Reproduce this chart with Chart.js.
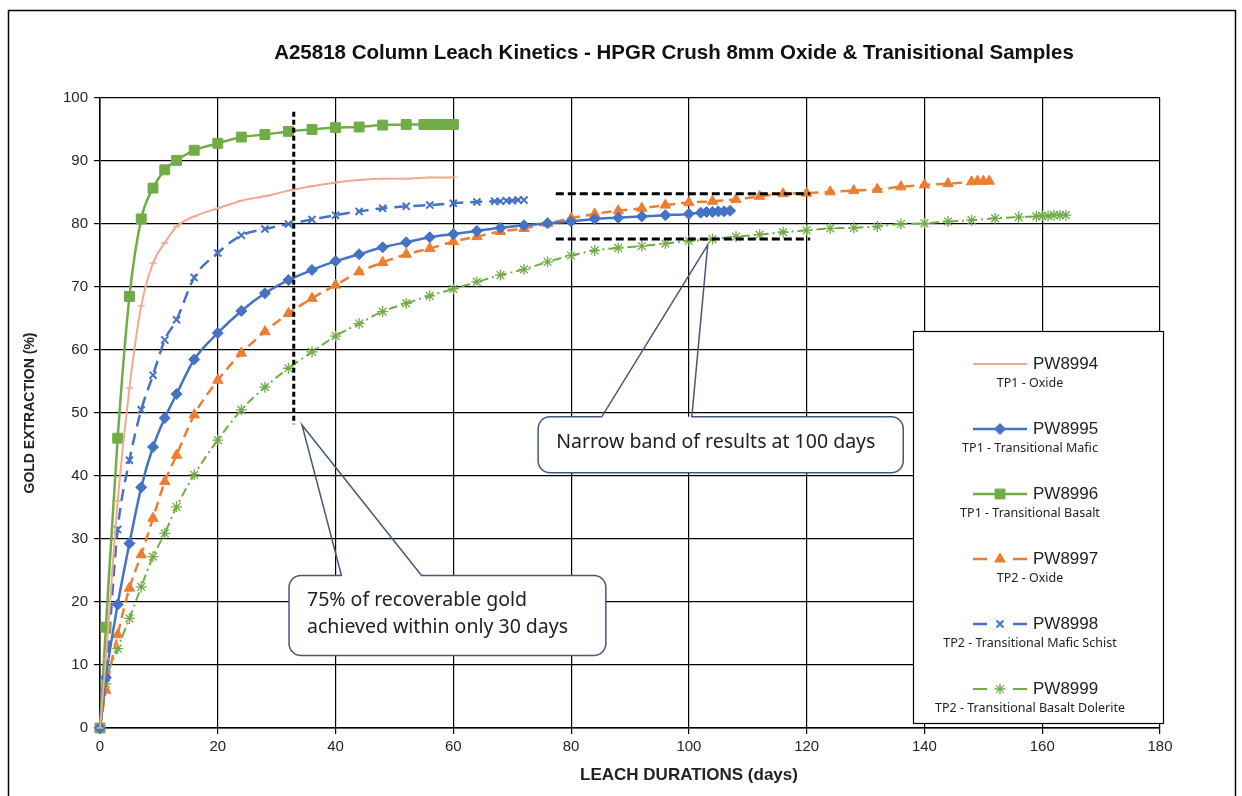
<!DOCTYPE html>
<html>
<head>
<meta charset="utf-8">
<script src="https://cdn.jsdelivr.net/npm/chart.js@4.4.1/dist/chart.umd.min.js"></script>
<style>
  html, body { margin: 0; padding: 0; background: #fff; }
</style>
</head>
<body>
<canvas id="leachChart" width="1242" height="796"></canvas>
<script>
const chartTitle = 'A25818 Column Leach Kinetics - HPGR Crush 8mm Oxide & Tranisitional Samples';
const xTitle = 'LEACH DURATIONS (days)';
const yTitle = 'GOLD EXTRACTION (%)';
const xTickValues = [0, 20, 40, 60, 80, 100, 120, 140, 160, 180];
const yTickValues = [0, 10, 20, 30, 40, 50, 60, 70, 80, 90, 100];

const sampleNames = ['PW8994', 'PW8995', 'PW8996', 'PW8997', 'PW8998', 'PW8999'];
const sampleTypes = ['TP1 - Oxide', 'TP1 - Transitional Mafic', 'TP1 - Transitional Basalt',
    'TP2 - Oxide', 'TP2 - Transitional Mafic Schist', 'TP2 - Transitional Basalt Dolerite'];

// leach days and gold extraction (%) per column
const days8994 = [0, 1, 3, 5, 7, 9, 11, 13, 16, 20, 24, 28, 32, 36, 40, 44, 48, 52, 56, 60];
const gold8994 = [0, 11, 36, 54, 67, 73.8, 77, 79.6, 81.2, 82.5, 83.7, 84.4, 85.3, 86, 86.6, 87, 87.2, 87.2, 87.4, 87.4];

const days8995 = [0, 1, 3, 5, 7, 9, 11, 13, 16, 20, 24, 28, 32, 36, 40, 44, 48, 52, 56, 60,
    64, 68, 72, 76, 80, 84, 88, 92, 96, 100, 102, 103, 104, 105, 106, 107];
const gold8995 = [0, 8, 19.6, 29.3, 38.2, 44.6, 49.2, 53, 58.5, 62.7, 66.2, 69, 71.1, 72.7, 74.1, 75.2, 76.3, 77.1, 77.9, 78.4,
    78.9, 79.4, 79.8, 80.1, 80.4, 80.8, 81, 81.2, 81.4, 81.6, 81.8, 81.9, 81.9, 82, 82, 82.1];

const days8996 = [0, 1, 3, 5, 7, 9, 11, 13, 16, 20, 24, 28, 32, 36, 40, 44, 48, 52, 55, 56, 57, 58, 59, 60];
const gold8996 = [0, 16, 46, 68.5, 80.8, 85.7, 88.6, 90.1, 91.7, 92.8, 93.8, 94.2, 94.7, 95, 95.3, 95.4, 95.7, 95.8, 95.8, 95.8, 95.8, 95.8, 95.8, 95.8];

const days8997 = [0, 1, 3, 5, 7, 9, 11, 13, 16, 20, 24, 28, 32, 36, 40, 44, 48, 52, 56, 60,
    64, 68, 72, 76, 80, 84, 88, 92, 96, 100, 104, 108, 112, 116, 120, 124, 128, 132, 136, 140, 144, 148, 149, 150, 151];
const gold8997 = [0, 6, 14.8, 22.2, 27.5, 33.3, 39.1, 43.3, 49.7, 55.2, 59.5, 62.9, 65.8, 68.2, 70.3, 72.4, 73.9, 75.2, 76.1, 77.2,
    78, 78.8, 79.3, 80.1, 80.9, 81.6, 82.1, 82.5, 83, 83.4, 83.6, 83.9, 84.4, 84.8, 84.9, 85.1, 85.3, 85.5, 85.9, 86.2, 86.4, 86.7, 86.8, 86.8, 86.8];

const days8998 = [0, 1, 3, 5, 7, 9, 11, 13, 16, 20, 24, 28, 32, 36, 40, 44, 48, 52, 56, 60, 64, 67, 68, 69, 70, 71, 72];
const gold8998 = [0, 8, 31.5, 42.5, 50.5, 56, 61.6, 64.8, 71.5, 75.4, 78.2, 79.2, 80, 80.7, 81.4, 82, 82.5, 82.8, 83, 83.3,
    83.5, 83.6, 83.6, 83.7, 83.7, 83.8, 83.8];

const days8999 = [0, 1, 3, 5, 7, 9, 11, 13, 16, 20, 24, 28, 32, 36, 40, 44, 48, 52, 56, 60,
    64, 68, 72, 76, 80, 84, 88, 92, 96, 100, 104, 108, 112, 116, 120, 124, 128, 132, 136, 140,
    144, 148, 152, 156, 159, 160, 161, 162, 163, 164];
const gold8999 = [0, 7, 12.6, 17.4, 22.4, 27.2, 30.9, 35.1, 40.2, 45.7, 50.5, 54.1, 57.1, 59.7, 62.2, 64.2, 66.1, 67.4, 68.6, 69.7,
    70.8, 71.9, 72.8, 74, 75, 75.8, 76.2, 76.5, 76.9, 77.3, 77.6, 78, 78.3, 78.7, 79, 79.3, 79.4, 79.6, 80, 80.1,
    80.4, 80.6, 80.9, 81.1, 81.2, 81.3, 81.3, 81.4, 81.4, 81.4];

const toPoints = (days, gold) => days.map((d, i) => ({ x: d, y: gold[i] }));

const datasets = [
    {
        label: sampleNames[0],
        data: toPoints(days8994, gold8994),
        borderColor: '#F4A98E', backgroundColor: '#F4A98E',
        borderWidth: 2, pointStyle: 'line', pointRadius: 3.5, pointBorderWidth: 1.5
    },
    {
        label: sampleNames[1],
        data: toPoints(days8995, gold8995),
        borderColor: '#4472C4', backgroundColor: '#4472C4',
        borderWidth: 2.5, pointStyle: 'rectRot', pointRadius: 5.5, pointBorderWidth: 1
    },
    {
        label: sampleNames[2],
        data: toPoints(days8996, gold8996),
        borderColor: '#70AD47', backgroundColor: '#70AD47',
        borderWidth: 2.5, pointStyle: 'rect', pointRadius: 7, pointBorderWidth: 1
    },
    {
        label: sampleNames[3],
        data: toPoints(days8997, gold8997),
        borderColor: '#ED7D31', backgroundColor: '#ED7D31',
        borderWidth: 2.5, borderDash: [10, 6], pointStyle: 'triangle', pointRadius: 6, pointBorderWidth: 1
    },
    {
        label: sampleNames[4],
        data: toPoints(days8998, gold8998),
        borderColor: '#4472C4', backgroundColor: '#4472C4',
        borderWidth: 2.5, borderDash: [12, 7], pointStyle: 'crossRot', pointRadius: 5, pointBorderWidth: 2
    },
    {
        label: sampleNames[5],
        data: toPoints(days8999, gold8999),
        borderColor: '#70AD47', backgroundColor: '#70AD47',
        borderWidth: 2, borderDash: [9, 4, 2, 4], pointStyle: 'star', pointRadius: 5.5, pointBorderWidth: 1.3
    }
];
datasets.forEach(ds => {
    ds.fill = false;
    ds.tension = 0.3;
    ds.cubicInterpolationMode = 'monotone';
    ds.pointBackgroundColor = ds.backgroundColor;
    ds.pointBorderColor = ds.borderColor;
    ds.clip = false;
});

// annotation positions in data units (days, %)
const bandStart = 77.4, bandEnd = 120.6;
const bandLevels = [84.8, 77.6];
const markerDay = 32.9, markerFrom = 48.2, markerTo = 97.8;
const callouts = [
    { lines: ['Narrow band of results at 100 days'], x0: 74.4, x1: 136.4, yTop: 49.4, yBottom: 40.5,
      base: [85.2, 100.5], tip: [103.2, 76.7] },
    { lines: ['75% of recoverable gold', 'achieved within only 30 days'], x0: 32.1, x1: 85.9, yTop: 24.2, yBottom: 11.5,
      base: [41.0, 54.6], tip: [34.3, 48.1] }
];

const framePlugin = {
    id: 'frame',
    beforeDraw(chart) {
        const ctx = chart.ctx;
        ctx.save();
        ctx.fillStyle = '#fff';
        ctx.fillRect(0, 0, chart.width, chart.height);
        ctx.strokeStyle = '#000';
        ctx.lineWidth = 1.5;
        ctx.strokeRect(8.5, 10.5, 1227, 800);
        ctx.fillStyle = '#111';
        ctx.font = 'bold 20.5px "Liberation Sans", Arial, sans-serif';
        ctx.textAlign = 'center';
        ctx.textBaseline = 'middle';
        ctx.fillText(chartTitle, 674, 53);
        // x axis title sits a little right of the plot centre
        ctx.font = 'bold 17px "Liberation Sans", Arial, sans-serif';
        ctx.fillStyle = '#222';
        ctx.fillText(xTitle, 689, 775);
        ctx.restore();
    }
};

const annotationPlugin = {
    id: 'notes',
    afterDatasetsDraw(chart) {
        const ctx = chart.ctx;
        const xs = chart.scales.x, ys = chart.scales.y;
        const px = v => xs.getPixelForValue(v);
        const py = v => ys.getPixelForValue(v);
        ctx.save();
        ctx.strokeStyle = '#000';
        ctx.lineWidth = 3;
        ctx.setLineDash([5, 3]);
        ctx.beginPath();
        ctx.moveTo(px(markerDay), py(markerTo));
        ctx.lineTo(px(markerDay), py(markerFrom));
        ctx.stroke();
        ctx.setLineDash([8, 4]);
        bandLevels.forEach(lv => {
            ctx.beginPath();
            ctx.moveTo(px(bandStart), py(lv));
            ctx.lineTo(px(bandEnd), py(lv));
            ctx.stroke();
        });
        ctx.setLineDash([]);

        callouts.forEach(c => {
            const l = px(c.x0), r = px(c.x1), t = py(c.yTop), b = py(c.yBottom);
            const rad = 12;
            ctx.fillStyle = '#fff';
            ctx.beginPath();
            ctx.roundRect(l, t, r - l, b - t, rad);
            ctx.fill();
            ctx.beginPath();
            ctx.moveTo(l + rad, t);
            ctx.lineTo(px(c.base[0]), t);
            ctx.lineTo(px(c.tip[0]), py(c.tip[1]));
            ctx.lineTo(px(c.base[1]), t);
            ctx.lineTo(r - rad, t);
            ctx.arcTo(r, t, r, t + rad, rad);
            ctx.lineTo(r, b - rad);
            ctx.arcTo(r, b, r - rad, b, rad);
            ctx.lineTo(l + rad, b);
            ctx.arcTo(l, b, l, b - rad, rad);
            ctx.lineTo(l, t + rad);
            ctx.arcTo(l, t, l + rad, t, rad);
            ctx.closePath();
            ctx.strokeStyle = '#45587A';
            ctx.lineWidth = 1.5;
            ctx.stroke();
            ctx.fillStyle = '#222';
            ctx.font = '19.5px "Noto Sans", "Open Sans", sans-serif';
            ctx.textAlign = 'left';
            ctx.textBaseline = 'middle';
            const mid = (t + b) / 2 - 2;
            c.lines.forEach((txt, i) => {
                ctx.fillText(txt, l + 18, mid + (i - (c.lines.length - 1) / 2) * 27);
            });
        });
        ctx.restore();
    }
};

const legendPlugin = {
    id: 'sampleLegend',
    afterDatasetsDraw(chart) {
        const ctx = chart.ctx;
        const left = 913, top = 331, w = 250, h = 392;
        ctx.save();
        ctx.fillStyle = '#fff';
        ctx.fillRect(left, top, w, h);
        ctx.strokeStyle = '#000';
        ctx.lineWidth = 1.2;
        ctx.strokeRect(left + 0.5, top + 0.5, w, h);
        chart.data.datasets.forEach((ds, i) => {
            const y = top + 33 + i * 65;
            const x0 = left + 60, x1 = left + 114, xm = (x0 + x1) / 2;
            ctx.strokeStyle = ds.borderColor;
            ctx.lineWidth = ds.borderWidth;
            ctx.beginPath();
            if (ds.borderDash) {
                ctx.moveTo(x0, y); ctx.lineTo(x0 + 14, y);
                ctx.moveTo(x1 - 14, y); ctx.lineTo(x1, y);
            } else {
                ctx.moveTo(x0, y); ctx.lineTo(x1, y);
            }
            ctx.stroke();
            ctx.fillStyle = ds.pointBackgroundColor;
            ctx.strokeStyle = ds.pointBorderColor;
            ctx.lineWidth = ds.pointBorderWidth;
            Chart.helpers.drawPoint(ctx, {
                pointStyle: ds.pointStyle, radius: ds.pointRadius, rotation: 0, borderWidth: ds.pointBorderWidth
            }, xm, y);
            ctx.fillStyle = '#222';
            ctx.textBaseline = 'middle';
            ctx.textAlign = 'left';
            ctx.font = '17px "Liberation Sans", Arial, sans-serif';
            ctx.fillText(ds.label, x1 + 6, y);
            ctx.textAlign = 'center';
            ctx.font = '12.5px "Noto Sans", "Open Sans", sans-serif';
            ctx.fillText(sampleTypes[i], left + 117, y + 19);
        });
        ctx.restore();
    }
};

new Chart(document.getElementById('leachChart'), {
    type: 'line',
    data: { datasets: datasets },
    options: {
        responsive: false,
        animation: false,
        layout: { padding: { top: 98, right: 82, bottom: 0, left: 0 } },
        plugins: {
            legend: { display: false },
            title: { display: false },
            tooltip: { enabled: false }
        },
        scales: {
            x: {
                type: 'linear',
                min: 0, max: 180,
                afterFit: s => { s.height = 68; },
                afterBuildTicks: s => { s.ticks = xTickValues.map(v => ({ value: v })); },
                grid: { color: '#000', lineWidth: 1.2, tickLength: 6, tickColor: '#000' },
                border: { color: '#000', width: 1.5 },
                ticks: { color: '#262626', padding: 4, font: { family: '"Liberation Sans", Arial, sans-serif', size: 15 } },
                title: { display: false }
            },
            y: {
                min: 0, max: 100,
                afterFit: s => { s.width = 100; },
                afterBuildTicks: s => { s.ticks = yTickValues.map(v => ({ value: v })); },
                grid: { color: '#000', lineWidth: 1.2, tickLength: 6, tickColor: '#000' },
                border: { color: '#000', width: 1.5 },
                ticks: { color: '#262626', padding: 6, font: { family: '"Liberation Sans", Arial, sans-serif', size: 15 } },
                title: {
                    display: true, text: yTitle, color: '#222',
                    padding: { top: 22, bottom: 0 },
                    font: { family: '"Liberation Sans", Arial, sans-serif', size: 14, weight: 'bold' }
                }
            }
        }
    },
    plugins: [framePlugin, annotationPlugin, legendPlugin]
});
</script>
</body>
</html>
